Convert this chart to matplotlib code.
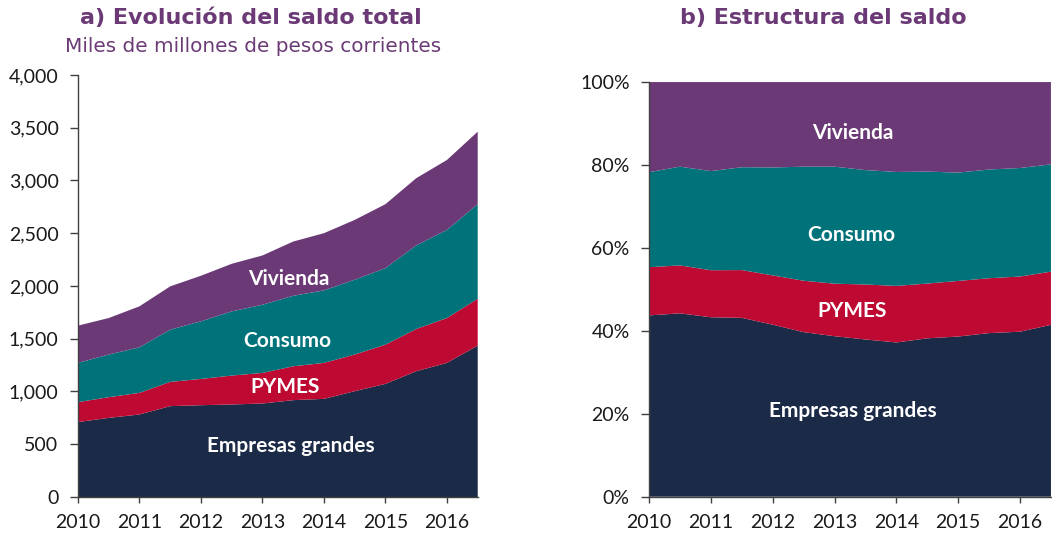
import numpy as np
import matplotlib.pyplot as plt
from matplotlib.ticker import FuncFormatter

# semestral periods 2010 - 2016.5
periods = [2010, 2010.5, 2011, 2011.5, 2012, 2012.5, 2013, 2013.5,
           2014, 2014.5, 2015, 2015.5, 2016, 2016.5]

# saldo (miles de millones de pesos corrientes)
empresas = [710, 750, 782, 861, 870, 877, 886, 918, 930, 1003, 1072, 1192, 1271, 1435]
pymes = [189, 196, 205, 230, 249, 274, 290, 321, 341, 347, 372, 400, 425, 444]
consumo = [372, 404, 432, 495, 546, 608, 646, 668, 687, 709, 725, 792, 836, 896]
vivienda = [353, 346, 388, 410, 432, 451, 467, 514, 542, 567, 606, 637, 662, 687]

series_names = ["Empresas grandes", "PYMES", "Consumo", "Vivienda"]
colors = ["#1b2a47", "#be0a33", "#00727a", "#6b3a76"]
years = [2010, 2011, 2012, 2013, 2014, 2015, 2016]

title_color = "#6b3a76"
axis_color = "#404040"

plt.rcParams["font.family"] = ["Lato", "DejaVu Sans"]

data = np.array([empresas, pymes, consumo, vivienda], dtype=float)
shares = data / data.sum(axis=0) * 100

fig = plt.figure(figsize=(10.52, 5.35), dpi=100)
ax1 = fig.add_axes([0.0741, 0.071, 0.380, 0.789])
ax2 = fig.add_axes([0.617, 0.0716, 0.382, 0.775])


def style_axes(ax):
    ax.spines["top"].set_visible(False)
    ax.spines["right"].set_visible(False)
    for s in ("left", "bottom"):
        ax.spines[s].set_color(axis_color)
        ax.spines[s].set_linewidth(1.0)
    ax.tick_params(axis="both", colors=axis_color, width=1.0,
                   labelsize=14, labelcolor="#1a1a1a")
    ax.tick_params(axis="x", length=4.5, pad=8)
    ax.tick_params(axis="y", length=6, pad=8)
    ax.set_xticks(years)
    ax.set_xlim(2010, 2016.5)


# a) saldo total
ax1.stackplot(periods, data, colors=colors, linewidth=0)
style_axes(ax1)
ax1.set_ylim(0, 4000)
ax1.set_yticks(np.arange(0, 4001, 500))
ax1.yaxis.set_major_formatter(FuncFormatter(lambda v, p: f"{v:,.0f}"))

lab_pos1 = [(2013.46, 480), (2013.37, 1040), (2013.4, 1476), (2013.43, 2063)]
for name, (x, y) in zip(series_names, lab_pos1):
    ax1.text(x, y, name, color="white", fontsize=15, fontweight="bold",
             ha="center", va="center")

# b) estructura
ax2.stackplot(periods, shares, colors=colors, linewidth=0)
style_axes(ax2)
ax2.set_ylim(0, 100)
ax2.set_yticks(np.arange(0, 101, 20))
ax2.yaxis.set_major_formatter(FuncFormatter(lambda v, p: f"{v:.0f}%"))

lab_pos2 = [(2013.29, 20.6), (2013.29, 44.8), (2013.27, 63.2), (2013.29, 87.8)]
for name, (x, y) in zip(series_names, lab_pos2):
    ax2.text(x, y, name, color="white", fontsize=15, fontweight="bold",
             ha="center", va="center")

# titles
fig.text(251 / 1052, 1 - 18 / 535, "a) Evolución del saldo total", color=title_color,
         fontsize=16, fontweight="bold", ha="center", va="center",
         family="DejaVu Sans")
fig.text(253 / 1052, 1 - 46 / 535, "Miles de millones de pesos corrientes", color=title_color,
         fontsize=14.4, ha="center", va="center", family="DejaVu Sans")
fig.text(823 / 1052, 1 - 18 / 535, "b) Estructura del saldo", color=title_color,
         fontsize=16, fontweight="bold", ha="center", va="center",
         family="DejaVu Sans")

fig.savefig("out.png", dpi=100)
